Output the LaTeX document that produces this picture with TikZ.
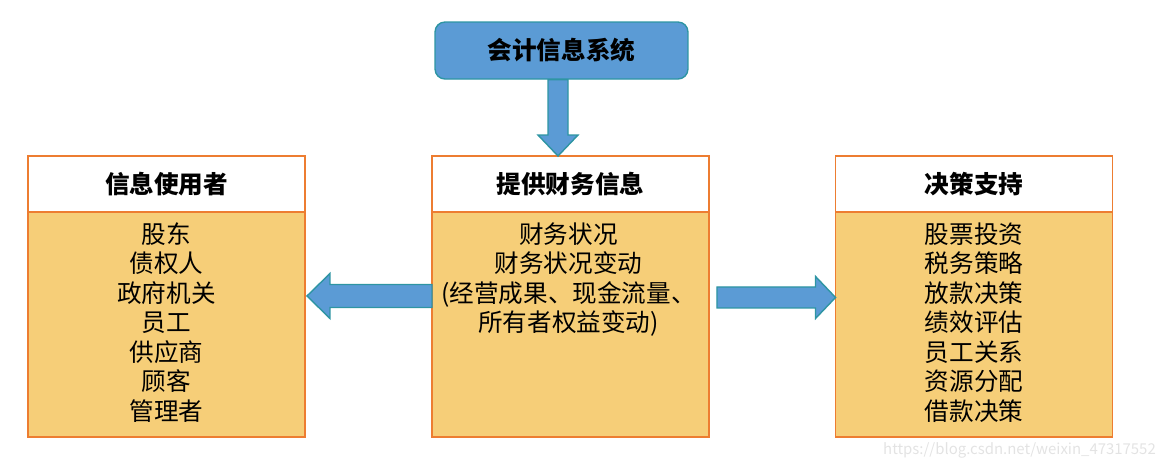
\documentclass[tikz,border=0pt]{standalone}
\usepackage{fontspec}
\setmainfont{Noto Sans CJK SC}
\usetikzlibrary{calc,positioning}
\definecolor{boxblue}{HTML}{5B9BD5}
\definecolor{boxteal}{HTML}{2E95A3}
\definecolor{boxorange}{HTML}{ED7D31}
\definecolor{boxgold}{HTML}{F6CE78}

\tikzset{
  head/.style={draw=boxorange,fill=white,line width=0.8pt,outer sep=0pt,
    minimum width=5.54cm,minimum height=1.12cm,
    font=\bfseries\fontsize{14}{17}\selectfont},
  body/.style={draw=boxorange,fill=boxgold,line width=0.8pt,outer sep=0pt,
    minimum width=5.54cm,minimum height=4.5cm},
  list/.style={inner sep=0pt,align=center,font=\fontsize{14}{16.8}\selectfont},
  blockarrow/.style={fill=boxblue,draw=boxteal,line width=0.8pt},
}

\begin{document}
\begin{tikzpicture}[x=0.02cm,y=-0.02cm]
    \useasboundingbox (0,0) rectangle (1170,468);

    \node[blockarrow,rounded corners=0.2cm,minimum width=5.06cm,minimum height=1.14cm,
      font=\bfseries\fontsize{14}{17}\selectfont] (sys) at (561.5,50.5) {会计信息系统};

    % three panels
    \node[head] (usershead) at (166.5,184) {信息使用者};
    \node[head] (finhead) at (570.5,184) {提供财务信息};
    \node[head] (dechead) at (974,184) {决策支持};
    \node[body,below=0pt of usershead] (usersbody) {};
    \node[body,below=0pt of finhead] (finbody) {};
    \node[body,below=0pt of dechead] (decbody) {};

    \node[list,below=0.2cm of usersbody.north] (users)
      {股东\\债权人\\政府机关\\员工\\供应商\\顾客\\管理者};
    \node[list,below=0.2cm of finbody.north,xshift=-0.04cm] (fin)
      {财务状况\\财务状况变动\\(经营成果、现金流量、\\所有者权益变动)};
    \node[list,below=0.2cm of decbody.north] (dec)
      {股票投资\\税务策略\\放款决策\\绩效评估\\员工关系\\资源分配\\借款决策};

    % block arrows
    \coordinate (dt) at ($(sys.south)+(-3.5,0)$);
    \coordinate (dh) at ($(finhead.north)+(-12.5,0)$);
    \filldraw[blockarrow] ($(dt)+(-10,0)$) -- ($(dh)+(-10,-21)$) -- ($(dh)+(-20,-21)$)
      -- (dh) -- ($(dh)+(20,-21)$) -- ($(dh)+(10,-21)$) -- ($(dt)+(10,0)$) -- cycle;

    \coordinate (lt) at ($(finbody.west)+(0,-28.5)$);
    \coordinate (lh) at ($(usersbody.east)+(2,-28.5)$);
    \filldraw[blockarrow] ($(lt)+(0,-11.5)$) -- ($(lh)+(23,-11.5)$) -- ($(lh)+(23,-22.5)$)
      -- (lh) -- ($(lh)+(23,22.5)$) -- ($(lh)+(23,11.5)$) -- ($(lt)+(0,11.5)$) -- cycle;

    \coordinate (rt) at ($(finbody.east)+(8,-27)$);
    \coordinate (rh) at ($(decbody.west)+(0,-27)$);
    \filldraw[blockarrow] ($(rt)+(0,-10.5)$) -- ($(rh)+(-20,-10.5)$) -- ($(rh)+(-20,-21)$)
      -- (rh) -- ($(rh)+(-20,21)$) -- ($(rh)+(-20,10.5)$) -- ($(rt)+(0,10.5)$) -- cycle;

    \node[text=gray!22,font=\fontsize{8.5}{10}\selectfont,anchor=east] (mark) at (1162,450)
      {https://blog.csdn.net/weixin\_47317552};
\end{tikzpicture}
\end{document}
